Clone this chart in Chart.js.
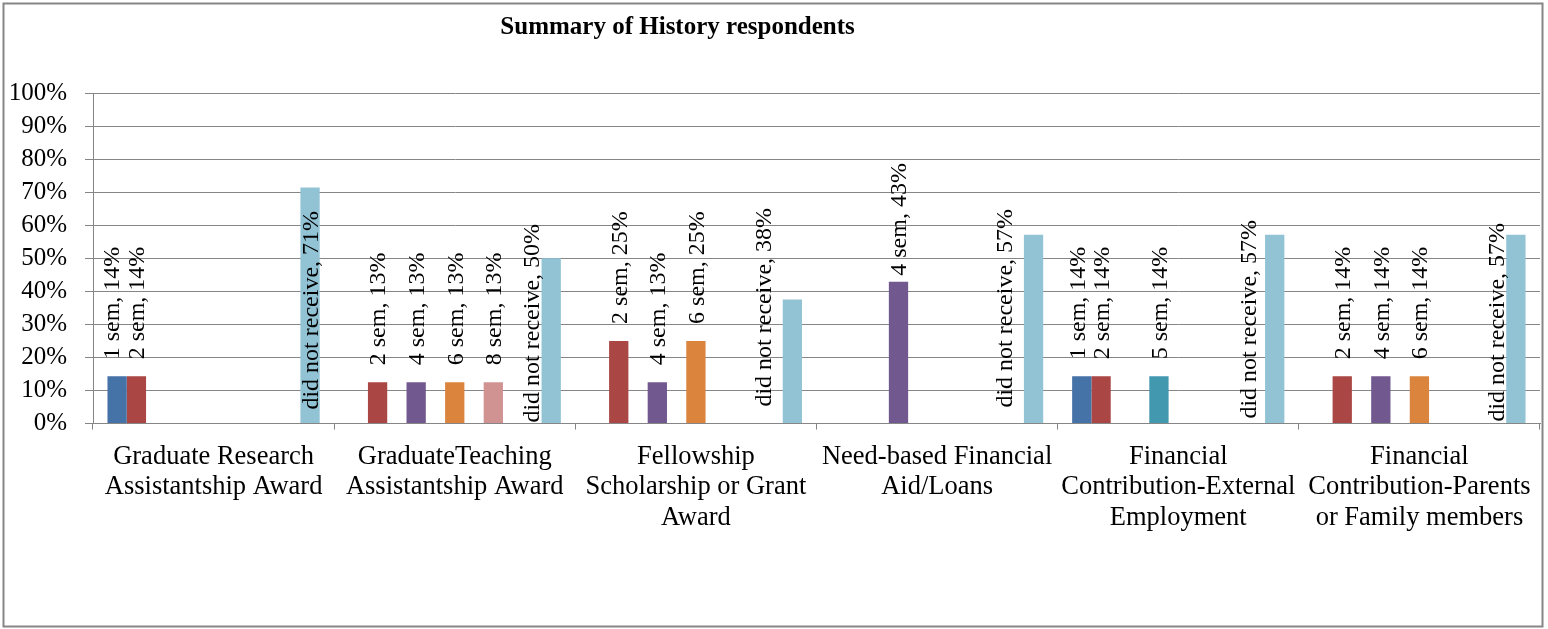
<!DOCTYPE html>
<html>
<head>
<meta charset="utf-8">
<script src="https://cdn.jsdelivr.net/npm/chart.js@4.4.0/dist/chart.umd.min.js"></script>
<style>
  html, body { margin: 0; padding: 0; background: #fff; }
  #wrap { width: 1548px; height: 629px; }
</style>
</head>
<body>
<div id="wrap"><canvas id="historyChart" width="1548" height="629"></canvas></div>
<script>
// Summary of History respondents - share of respondents per semester count
const categories = [
  ["Graduate Research", "Assistantship Award"],
  ["GraduateTeaching", "Assistantship Award"],
  ["Fellowship", "Scholarship or Grant", "Award"],
  ["Need-based Financial", "Aid/Loans"],
  ["Financial", "Contribution-External", "Employment"],
  ["Financial", "Contribution-Parents", "or Family members"]
];
const seriesNames = ["1 sem", "2 sem", "3 sem", "4 sem", "5 sem", "6 sem", "7 sem", "8 sem", "9 sem", "10 sem", "did not receive"];

const sem1 = [14.3, null, null, null, 14.3, null];
const sem2 = [14.3, 12.5, 25, null, 14.3, 14.3];
const sem3 = [null, null, null, null, null, null];
const sem4 = [null, 12.5, 12.5, 42.9, null, 14.3];
const sem5 = [null, null, null, null, 14.3, null];
const sem6 = [null, 12.5, 25, null, null, 14.3];
const sem7 = [null, null, null, null, null, null];
const sem8 = [null, 12.5, null, null, null, null];
const sem9 = [null, null, null, null, null, null];
const sem10 = [null, null, null, null, null, null];
const didNotReceive = [71.4, 50, 37.5, 57.1, 57.1, 57.1];

const yTicks = [0, 10, 20, 30, 40, 50, 60, 70, 80, 90, 100];

const seriesValues = [sem1, sem2, sem3, sem4, sem5, sem6, sem7, sem8, sem9, sem10, didNotReceive];
const palette = ["#4572A7", "#AA4643", "#89A54E", "#71588F", "#4198AF", "#DB843D",
                 "#93A9CF", "#D19392", "#B9CD96", "#A99BBD", "#92C3D5"];

const SERIF = '"Liberation Serif", "Times New Roman", serif';
const GRID = "#868686";

// rotated value labels ("2 sem, 13%") drawn above each bar
const barLabels = {
  id: "barLabels",
  afterDatasetsDraw(chart, args, opts) {
    const ctx = chart.ctx;
    const area = chart.chartArea;
    ctx.save();
    ctx.font = `${opts.size}px ${SERIF}`;
    ctx.fillStyle = "#000";
    ctx.textAlign = "left";
    ctx.textBaseline = "alphabetic";
    const capH = opts.size * 0.66;
    chart.data.datasets.forEach((ds, di) => {
      const meta = chart.getDatasetMeta(di);
      meta.data.forEach((bar, i) => {
        const v = ds.data[i];
        if (v === null || v === undefined) return;
        const text = `${ds.label}, ${Math.round(v)}%`;
        const len = ctx.measureText(text).width;
        let x = bar.x + capH / 2;
        let y = bar.y - opts.gap;
        if (y - len < area.top) {
          // no room above: stand the label up from the axis
          x += opts.lowShift[i];
          y = area.bottom - opts.lowLift[i];
        }
        const n = opts.nudge[`${di}-${i}`];
        if (n) { x += n[0]; y += n[1]; }
        ctx.save();
        ctx.translate(x, y);
        ctx.rotate(-Math.PI / 2);
        ctx.fillText(text, 0, 0);
        ctx.restore();
      });
    });
    ctx.restore();
  }
};

const frameAndTitle = {
  id: "frameAndTitle",
  beforeDraw(chart) {
    const ctx = chart.ctx;
    ctx.save();
    ctx.fillStyle = "#fff";
    ctx.fillRect(0, 0, chart.width, chart.height);
    ctx.restore();
  },
  afterDraw(chart) {
    const ctx = chart.ctx;
    ctx.save();
    ctx.strokeStyle = GRID;
    ctx.lineWidth = 2;
    ctx.strokeRect(3.5, 3.5, chart.width - 9, chart.height - 6);
    ctx.font = `bold 25px ${SERIF}`;
    ctx.fillStyle = "#000";
    ctx.textAlign = "center";
    ctx.textBaseline = "alphabetic";
    ctx.fillText("Summary of History respondents", chart.width * 0.4377, 34);
    ctx.restore();
  }
};

new Chart(document.getElementById("historyChart"), {
  type: "bar",
  data: {
    labels: categories,
    datasets: seriesNames.map((name, k) => ({
      label: name,
      data: seriesValues[k],
      backgroundColor: palette[k],
      borderWidth: 0,
      categoryPercentage: 0.88,
      barPercentage: 1.0,
      skipNull: false
    }))
  },
  options: {
    responsive: false,
    devicePixelRatio: 1,
    animation: false,
    layout: { padding: { top: 93, left: 0, right: 8, bottom: 84 } },
    plugins: {
      legend: { display: false },
      title: { display: false },
      tooltip: { enabled: false },
      barLabels: {
        size: 24,
        gap: 17,
        lowShift: [0, -20, -29, -29, -27, -20],
        lowLift: [14, 1, 17, 16, 5, 2],
        nudge: { "0-0": [-6, 0], "0-4": [-5, 0], "3-3": [0, 11] }
      }
    },
    scales: {
      x: {
        offset: true,
        afterFit: (s) => { s.paddingLeft = 0; s.paddingRight = 0; },
        grid: { display: true, drawOnChartArea: false, drawTicks: true, tickLength: 6, color: GRID, offset: true },
        border: { display: true, color: GRID, width: 1 },
        ticks: {
          color: "#000",
          font: { family: SERIF, size: 26.5, lineHeight: 1.15 },
          maxRotation: 0,
          autoSkip: false,
          padding: 12
        }
      },
      y: {
        min: 0,
        max: 100,
        afterBuildTicks: (scale) => { scale.ticks = yTicks.map(v => ({ value: v })); },
        afterFit: (s) => { s.width = 93; s.paddingTop = 0; s.paddingBottom = 0; },
        grid: { color: GRID, lineWidth: 1, tickLength: 8, drawTicks: true },
        border: { display: true, color: GRID, width: 1 },
        ticks: {
          color: "#000",
          font: { family: SERIF, size: 25 },
          padding: 18,
          callback: (v) => v + "%"
        }
      }
    }
  },
  plugins: [frameAndTitle, barLabels]
});
</script>
</body>
</html>
